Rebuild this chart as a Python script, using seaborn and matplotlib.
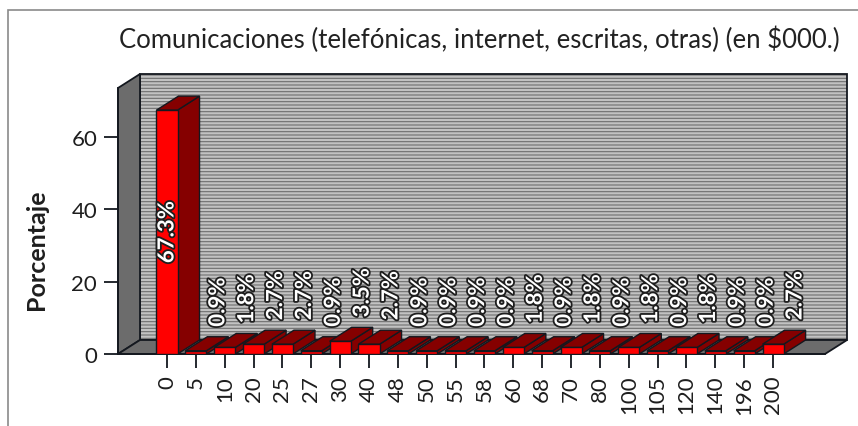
import matplotlib
matplotlib.use("Agg")
import matplotlib.pyplot as plt
import seaborn as sns
import pandas as pd
from matplotlib.patches import Polygon, Rectangle
import matplotlib.patheffects as pe

# Amount spent on communications (in $000) and share of respondents (%)
categories = ["0", "5", "10", "20", "25", "27", "30", "40", "48", "50", "55",
              "58", "60", "68", "70", "80", "100", "105", "120", "140", "196", "200"]
percentages = [67.3, 0.9, 1.8, 2.7, 2.7, 0.9, 3.5, 2.7, 0.9, 0.9, 0.9,
               0.9, 1.8, 0.9, 1.8, 0.9, 1.8, 0.9, 1.8, 0.9, 0.9, 2.7]
y_ticks = [0, 20, 40, 60]

title = "Comunicaciones (telefónicas, internet, escritas, otras) (en $000.)"
y_label = "Porcentaje"

df = pd.DataFrame({"categoria": categories, "porcentaje": percentages})

sns.set_theme(style="white")
plt.rcParams["font.family"] = ["Lato", "DejaVu Sans"]
plt.rcParams["hatch.linewidth"] = 0.8

W, H = 858, 427
fig = plt.figure(figsize=(W / 100, H / 100), dpi=100)
fig.patch.set_facecolor("white")

# front plane of the pseudo-3D box
ax_left, ax_bottom, ax_w, ax_h = 118, 72, 707, 266
ax = fig.add_axes([ax_left / W, ax_bottom / H, ax_w / W, ax_h / H])
ax.patch.set_visible(False)

FRONT = "#ff0000"
SHADE = "#850000"
EDGE = "#14181f"
PANEL = "#6c6c6c"
TEXT = "#1e1e1e"

sns.barplot(data=df, x="categoria", y="porcentaje", color=FRONT,
            saturation=1, width=0.73, edgecolor=EDGE, linewidth=1.0, ax=ax)

xmin, xmax = -1.698, 22.80
ymin, ymax = 0, 73.4
ax.set_xlim(xmin, xmax)
ax.set_ylim(ymin, ymax)

# depth of the box, in pixels, converted to data units
depth_px_x, depth_px_y = 22, 14
ddx = depth_px_x * (xmax - xmin) / ax_w
ddy = depth_px_y * (ymax - ymin) / ax_h

# back wall with horizontal stripes
wall = Rectangle((xmin + ddx, ymin + ddy), xmax - xmin, ymax - ymin,
                 facecolor="#c2c2c2", edgecolor="#6e6e6e", hatch="-----",
                 linewidth=0, clip_on=False, zorder=0.5)
ax.add_patch(wall)
ax.add_patch(Rectangle((xmin + ddx, ymin + ddy), xmax - xmin, ymax - ymin,
                       fill=False, edgecolor=EDGE, linewidth=1.3,
                       clip_on=False, zorder=0.6))
# left side panel
ax.add_patch(Polygon([(xmin, ymin), (xmin, ymax), (xmin + ddx, ymax + ddy),
                      (xmin + ddx, ymin + ddy)], closed=True,
                     facecolor=PANEL, edgecolor=EDGE, linewidth=1.3,
                     clip_on=False, zorder=0.7))
# floor
ax.add_patch(Polygon([(xmin, ymin), (xmax, ymin), (xmax + ddx, ymin + ddy),
                      (xmin + ddx, ymin + ddy)], closed=True,
                     facecolor=PANEL, edgecolor=EDGE, linewidth=1.3,
                     clip_on=False, zorder=0.8))

# give every bar a top and a side face, drawn left to right
stroke = [pe.withStroke(linewidth=2.6, foreground="#1e1e1e")]
for i, (bar, val) in enumerate(zip(ax.patches[:len(percentages)], percentages)):
    x0 = bar.get_x()
    w = bar.get_width()
    h = bar.get_height()
    z = 2 + i * 0.1
    bar.set_zorder(z + 0.05)
    side = Polygon([(x0 + w, 0), (x0 + w, h), (x0 + w + ddx, h + ddy),
                    (x0 + w + ddx, ddy)], closed=True, facecolor=SHADE,
                   edgecolor=EDGE, linewidth=1.0, zorder=z, clip_on=False)
    top = Polygon([(x0, h), (x0 + w, h), (x0 + w + ddx, h + ddy),
                   (x0 + ddx, h + ddy)], closed=True, facecolor=SHADE,
                  edgecolor=EDGE, linewidth=1.0, zorder=z + 0.02, clip_on=False)
    ax.add_patch(side)
    ax.add_patch(top)

    label = f"{val:.1f}%"
    if val > 30:
        ax.text(x0 + w / 2, h / 2, label, rotation=90, ha="center", va="center",
                color="white", fontsize=16, fontweight="bold",
                path_effects=stroke, zorder=10)
    else:
        ax.annotate(label, (x0 + w / 2 + ddx, h + ddy), xytext=(0, 10),
                    textcoords="offset pixels", rotation=90, ha="center",
                    va="bottom", color="white", fontsize=16, fontweight="bold",
                    path_effects=stroke, zorder=10, annotation_clip=False)

for s in ["top", "right"]:
    ax.spines[s].set_visible(False)
for s in ["left", "bottom"]:
    ax.spines[s].set_color(EDGE)
    ax.spines[s].set_linewidth(1.3)
    ax.spines[s].set_zorder(0.9)

ax.set_yticks(y_ticks)
ax.set_yticklabels([str(t) for t in y_ticks])
ax.tick_params(axis="both", direction="out", length=10, width=1.3,
               color=EDGE, labelcolor=TEXT, labelsize=16, pad=5,
               left=True, bottom=True)
ax.tick_params(axis="x", labelrotation=90)

ax.set_xlabel("")
ax.set_ylabel("")
fig.text(36 / W, 1 - 250 / H, y_label, rotation=90, ha="center", va="center",
         fontsize=18, fontweight="bold", color=TEXT)
fig.text(479 / W, 1 - 40 / H, title, ha="center", va="center",
         fontsize=18.5, color="#222222")

# chart frame
fig.add_artist(Rectangle((8 / W, -0.1), 1.2, 1.1 - 11 / H,
                         transform=fig.transFigure, fill=False,
                         edgecolor="#8a8a8a", linewidth=1.2))

fig.savefig("out.png", dpi=100, facecolor="white")
